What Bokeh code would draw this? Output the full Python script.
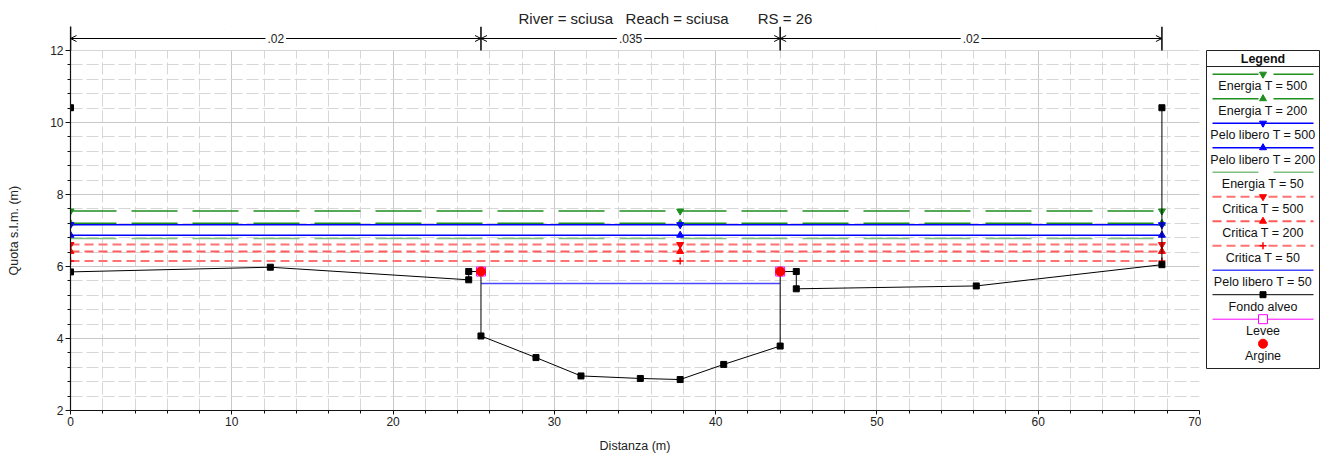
import numpy as np
from bokeh.plotting import figure
from bokeh.layouts import row
from bokeh.models import Range1d, FixedTicker, BoxAnnotation, Label, Arrow, OpenHead, Title
from bokeh.embed import file_html
from bokeh.resources import INLINE
from bokeh.core.properties import value

FONT = "Liberation Sans"

# ---------------- data ----------------
# ground profile (Fondo alveo)
station = [0.0, 0.0, 12.39, 24.69, 24.69, 25.45, 25.45, 28.86, 31.65, 35.33, 37.8,
           40.5, 44.0, 44.0, 45.0, 45.0, 56.16, 67.67, 67.67]
elevation = [10.41, 5.85, 5.98, 5.63, 5.86, 5.86, 4.07, 3.47, 2.96, 2.89, 2.86,
             3.28, 3.79, 5.86, 5.86, 5.38, 5.46, 6.05, 10.41]

# water surface / energy / critical levels across the whole section
ws_names = ["Energia T = 500", "Energia T = 200", "Pelo libero T = 500", "Pelo libero T = 200",
            "Energia T = 50", "Critica T = 500", "Critica T = 200", "Critica T = 50"]
ws_levels = [7.54, 7.20, 7.16, 6.87, 6.78, 6.61, 6.42, 6.15]
ws_extent = [0.0, 67.67]
ws_marker_x = [0.0, 37.8, 67.67]

# Pelo libero T = 50 (in the channel only)
pelo50_name = "Pelo libero T = 50"
pelo50_level = 5.53
pelo50_extent = [25.45, 44.0]

# bank stations (Argine / Levee)
bank_x = [25.45, 44.0]
bank_y = [5.86, 5.86]

# Manning n values
n_stations = [0.0, 25.45, 44.0, 67.67]
n_values = [".02", ".035", ".02"]

x_ticks = [0, 10, 20, 30, 40, 50, 60, 70]
y_ticks = [2, 4, 6, 8, 10, 12]

title_text = "River = sciusa\u00a0\u00a0\u00a0Reach = sciusa\u00a0\u00a0\u00a0\u00a0\u00a0\u00a0\u00a0RS = 26"
x_label = "Distanza (m)"
y_label = "Quota s.l.m. (m)"

# ---------------- styles ----------------
GREEN = "#1f8f1f"
LGREEN = "#80c080"
BLUE = "#0000ff"
LBLUE = "#4848ff"
LRED = "#ff7373"
RED = "#ff0000"
ws_colors = [GREEN, GREEN, BLUE, BLUE, LGREEN, LRED, "#ff5c5c", LRED]
ws_dash = ["46 15", "46 15", "solid", "solid", "46 15", "9 5", "9 5", "9 5"]
ws_width = [1.5, 1.5, 1.5, 1.5, 1.5, 2, 2, 2]
ws_marker = ["inverted_triangle", "triangle", "inverted_triangle", "triangle", None,
             "inverted_triangle", "triangle", "cross"]
ws_mcolor = [GREEN, GREEN, BLUE, BLUE, None, RED, RED, RED]

x_minor = [t for t in range(0, 71, 2) if t % 10 != 0]
y_minor = [round(v, 1) for v in np.arange(2.0, 12.01, 0.4) if abs(v - round(v / 2) * 2) > 1e-6]

H = 456
TOP, BOTTOM = 26, 46

# ---------------- main figure ----------------
title = Title(text=title_text, align="left", offset=448, standoff=0, text_font=FONT,
              text_font_size="15px", text_font_style="normal", text_color="#222222")
p = figure(width=1201, height=H, x_range=Range1d(0, 70), y_range=Range1d(2, 12.6667),
           output_backend="svg", toolbar_location=None, title=title,
           min_border_left=70, min_border_right=2, min_border_top=TOP, min_border_bottom=BOTTOM)
p.outline_line_color = None
p.background_fill_color = "white"

for ax, ticks, minor in ((p.xaxis, x_ticks, x_minor), (p.yaxis, y_ticks, y_minor)):
    ax.ticker = FixedTicker(ticks=ticks, minor_ticks=minor)
    ax.axis_line_color = "#111111"
    ax.axis_line_width = 1.2
    ax.major_tick_line_color = "#111111"
    ax.minor_tick_line_color = "#111111"
    ax.major_tick_in = 0
    ax.minor_tick_in = 0
    ax.minor_tick_out = 3
    ax.major_label_text_font = FONT
    ax.major_label_text_font_size = "12px"
    ax.major_label_text_color = "#222222"
    ax.axis_label_text_font = FONT
    ax.axis_label_text_font_size = "12.5px"
    ax.axis_label_text_font_style = "normal"
    ax.axis_label_text_color = "#222222"
p.xaxis.major_tick_out = 4
p.yaxis.major_tick_out = 5
p.xaxis.major_label_standoff = 2
p.yaxis.major_label_standoff = 2
p.xaxis.axis_label = x_label
p.xaxis.axis_label_standoff = 10
p.yaxis.axis_label = y_label + "\u00a0" * 7
p.yaxis.axis_label_standoff = 26

for g in (p.xgrid, p.ygrid):
    g.grid_line_color = "#c8c8c8"
    g.grid_line_width = 1
    g.minor_grid_line_color = "#d6d6d6"
    g.minor_grid_line_dash = "12 4"
    g.minor_grid_line_width = 1

# white cover above the 12 m grid line (space for n-values bar)
p.add_layout(BoxAnnotation(bottom=12.01, fill_color="white", fill_alpha=1.0,
                           line_alpha=0.0, level="underlay"))

# water surface lines
for lvl, col, dash, w in zip(ws_levels, ws_colors, ws_dash, ws_width):
    p.line(ws_extent, [lvl, lvl], line_color=col, line_dash=dash, line_width=w)
p.line(pelo50_extent, [pelo50_level, pelo50_level], line_color=LBLUE, line_width=1.5)

# markers on the water lines
for lvl, mk, mc in zip(ws_levels, ws_marker, ws_mcolor):
    if mk is None:
        continue
    p.scatter(ws_marker_x, [lvl] * len(ws_marker_x), marker=mk, size=7,
              fill_color=mc, line_color=mc, line_width=1.5 if mk == "cross" else 1)

# ground
p.line(station, elevation, line_color="black", line_width=1)
p.scatter(station, elevation, marker="square", size=6, fill_color="black", line_color="black")

# levee / bank
p.scatter(bank_x, bank_y, marker="square", size=9, fill_color=None, line_color="#ff00ff", line_width=1)
p.scatter(bank_x, bank_y, marker="circle", size=9, fill_color=RED, line_color=RED)

# Manning n bar
n_y = 12.333
p.segment(x0=n_stations, y0=[12.0] * len(n_stations), x1=n_stations,
          y1=[12.6667] * len(n_stations), line_color="black", line_width=1.5)
for a, b, nv in zip(n_stations[:-1], n_stations[1:], n_values):
    p.add_layout(Arrow(x_start=a, y_start=n_y, x_end=b, y_end=n_y, line_color="black", line_width=1,
                       start=OpenHead(size=6, line_color="black", line_width=1),
                       end=OpenHead(size=6, line_color="black", line_width=1)))
    p.add_layout(Label(x=(a + b) / 2, y=n_y, text=nv, text_align="center", text_baseline="middle",
                       text_font=FONT, text_font_size="12px", text_color="#222222",
                       background_fill_color="white", padding=2))

# ---------------- legend figure ----------------
# frame is aligned with the main frame (page y TOP .. H-BOTTOM); use page pixel coordinates
leg = figure(width=122, height=H, x_range=Range1d(0, 122), y_range=Range1d(H - BOTTOM, TOP),
             x_axis_type=None, y_axis_type=None, output_backend="svg", toolbar_location=None,
             title=None, min_border_left=0, min_border_right=0,
             min_border_top=TOP, min_border_bottom=BOTTOM)
leg.outline_line_color = None
leg.xgrid.visible = False
leg.ygrid.visible = False

leg.quad(left=[5], right=[118], top=[50], bottom=[368], fill_color="white", line_color="#222222", line_width=1)
leg.segment(x0=[5], y0=[66], x1=[118], y1=[66], line_color="#222222", line_width=1)
leg.text(x=[61.5], y=[58], text=["Legend"], text_font=value(FONT), text_font_style="bold",
         text_font_size="12.5px", text_align="center", text_baseline="middle", text_color="#111111")

leg_names = ws_names + [pelo50_name, "Fondo alveo", "Levee", "Argine"]
leg_color = ws_colors + [LBLUE, "black", "#ff00ff", None]
leg_dash = ws_dash + ["solid", "solid", "solid", None]
leg_width = ws_width + [1.5, 1, 1, None]
leg_marker = ws_marker + [None, "square", "square", "circle"]
leg_mcolor = ws_mcolor + [None, "black", "#ff00ff", RED]
leg_mfill = ws_mcolor + [None, "black", "white", RED]
leg_msize = [7] * 8 + [None, 6, 9, 9]

for i, name in enumerate(leg_names):
    y = 73.7 + 24.5 * i
    if leg_color[i] is not None:
        leg.line([11, 112], [y, y], line_color=leg_color[i], line_dash=leg_dash[i], line_width=leg_width[i])
    if leg_marker[i] is not None:
        leg.scatter([61.5], [y], marker=leg_marker[i], size=leg_msize[i], fill_color=leg_mfill[i],
                    line_color=leg_mcolor[i], line_width=1.5 if leg_marker[i] == "cross" else 1)
    leg.text(x=[61.5], y=[y + 12], text=[name], text_font=value(FONT), text_font_size="12.5px",
             text_align="center", text_baseline="middle", text_color="#111111")

layout = row(p, leg)
open("out.html", "w").write(file_html(layout, INLINE, title="sciusa RS 26"))
